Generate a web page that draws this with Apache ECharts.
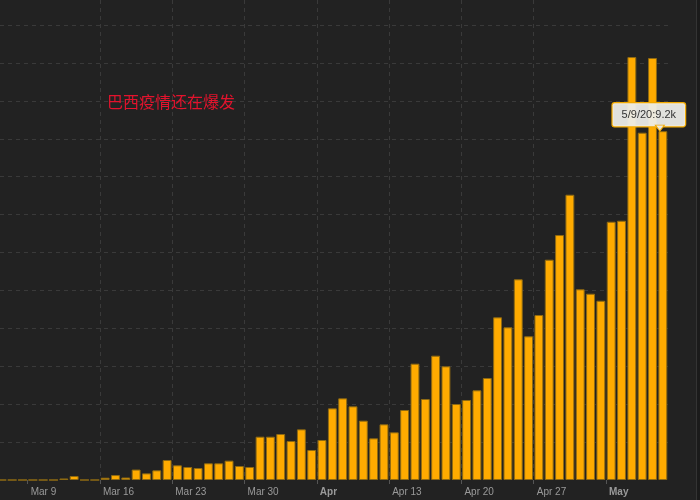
<!DOCTYPE html>
<html>
<head>
<meta charset="utf-8">
<script src="https://cdn.jsdelivr.net/npm/echarts@6/dist/echarts.min.js"></script>
<style>
html,body{margin:0;padding:0;background:#222;}
#chart{width:700px;height:500px;}
</style>
</head>
<body>
<div id="chart"></div>
<script>
// Daily new cases (Brazil), one value per day
const dates = [
  '3/6/20','3/7/20','3/8/20','3/9/20','3/10/20','3/11/20','3/12/20','3/13/20','3/14/20','3/15/20',
  '3/16/20','3/17/20','3/18/20','3/19/20','3/20/20','3/21/20','3/22/20','3/23/20','3/24/20','3/25/20',
  '3/26/20','3/27/20','3/28/20','3/29/20','3/30/20','3/31/20','4/1/20','4/2/20','4/3/20','4/4/20',
  '4/5/20','4/6/20','4/7/20','4/8/20','4/9/20','4/10/20','4/11/20','4/12/20','4/13/20','4/14/20',
  '4/15/20','4/16/20','4/17/20','4/18/20','4/19/20','4/20/20','4/21/20','4/22/20','4/23/20','4/24/20',
  '4/25/20','4/26/20','4/27/20','4/28/20','4/29/20','4/30/20','5/1/20','5/2/20','5/3/20','5/4/20',
  '5/5/20','5/6/20','5/7/20','5/8/20','5/9/20'
];
const newCases = [
  0, 0, 0, 0, 0, 0, 40, 105, 0, 0,
  60, 130, 65, 275, 175, 255, 527, 387, 343, 316,
  440, 440, 510, 369, 343, 1142, 1142, 1213, 1028, 1336,
  791, 1055, 1890, 2154, 1943, 1565, 1099, 1468, 1257, 1846,
  3068, 2136, 3279, 2998, 2004, 2110, 2365, 2690, 4290, 4027,
  5293, 3789, 4351, 5810, 6461, 7524, 5029, 4913, 4728, 6812,
  6838, 11155, 9160, 11130, 9200
];
const tickDates  = ['3/9/20','3/16/20','3/23/20','3/30/20','4/6/20','4/13/20','4/20/20','4/27/20','5/4/20'];
const tickLabels = ['Mar 9','Mar 16','Mar 23','Mar 30','Apr','Apr 13','Apr 20','Apr 27','May'];
const boldLabels = ['Apr','May'];
const noteText = '巴西疫情还在爆发';
const markedDate = '5/9/20';

const tickValues = tickDates.map(d => dates.indexOf(d));
const markedIdx = dates.indexOf(markedDate);
const fmtK = v => (v / 1000).toFixed(1) + 'k';

const barData = newCases.map((v, i) => {
  const item = { value: [i + 0.5, v] };
  if (i === markedIdx) {
    item.label = {
      show: true,
      position: 'top',
      distance: 5,
      offset: [-14, 0],
      formatter: dates[i] + ':' + fmtK(v),
      color: '#333',
      fontSize: 11,
      fontFamily: 'Liberation Sans, Arial, sans-serif',
      backgroundColor: 'rgba(236,236,232,0.95)',
      borderColor: '#f2a900',
      borderWidth: 1.2,
      borderRadius: 2,
      padding: [6, 9, 6, 9]
    };
  }
  return item;
});

const chart = echarts.init(document.getElementById('chart'));
chart.setOption({
  backgroundColor: '#222',
  animation: false,
  title: {
    text: noteText,
    left: 107,
    top: 94,
    padding: 0,
    textStyle: {
      color: '#e3132d',
      fontSize: 16,
      fontWeight: 'normal',
      fontFamily: 'Noto Sans CJK SC'
    }
  },
  graphic: [
    { type: 'rect', right: 0, top: 0, shape: { width: 3, height: 500 }, style: { fill: '#1b1b1b' }, silent: true },
    { type: 'rect', right: 3, top: 0, shape: { width: 1, height: 500 }, style: { fill: '#343434' }, silent: true }
  ],
  grid: { left: 0, right: 32, top: 0, bottom: 20 },
  xAxis: {
    type: 'value',
    min: 0.32,
    max: dates.length,
    axisLine: { show: false },
    axisTick: {
      show: true,
      customValues: tickValues,
      length: 4,
      lineStyle: { color: '#555' }
    },
    axisLabel: {
      customValues: tickValues,
      align: 'left',
      margin: 7,
      padding: [0, 0, 0, 3],
      color: '#9a9a9a',
      fontSize: 10,
      fontFamily: 'Liberation Sans, Arial, sans-serif',
      formatter: function (v) {
        const idx = tickValues.indexOf(Math.round(v));
        if (idx < 0) return '';
        const t = tickLabels[idx];
        return boldLabels.indexOf(t) >= 0 ? '{b|' + t + '}' : t;
      },
      rich: {
        b: {
          fontWeight: 'bold',
          color: '#9a9a9a',
          fontSize: 10,
          fontFamily: 'Liberation Sans, Arial, sans-serif'
        }
      }
    },
    splitLine: {
      show: true,
      showMinLine: false,
      showMaxLine: false,
      lineStyle: { color: '#3a3a3a', type: [4, 4], width: 1 }
    }
  },
  yAxis: {
    type: 'value',
    min: 0,
    max: 12660,
    interval: 1000,
    axisLine: { show: false },
    axisTick: { show: false },
    axisLabel: { show: false },
    splitLine: {
      show: true,
      showMinLine: false,
      showMaxLine: false,
      lineStyle: { color: '#3a3a3a', type: [4, 4], width: 1 }
    }
  },
  series: [{
    type: 'bar',
    data: barData,
    barWidth: '86%',
    itemStyle: {
      color: '#ffab00',
      borderColor: '#8f6a12',
      borderWidth: 1
    },
    markPoint: {
      symbol: 'path://M0,0 L10,0 L5,6 Z',
      symbolSize: [9, 6],
      symbolOffset: [-3, -3],
      itemStyle: {
        color: 'rgba(236,236,232,0.95)',
        borderColor: '#f2a900',
        borderWidth: 1
      },
      label: { show: false },
      data: [{ coord: [markedIdx + 0.5, newCases[markedIdx]] }]
    }
  }]
});
</script>
</body>
</html>
